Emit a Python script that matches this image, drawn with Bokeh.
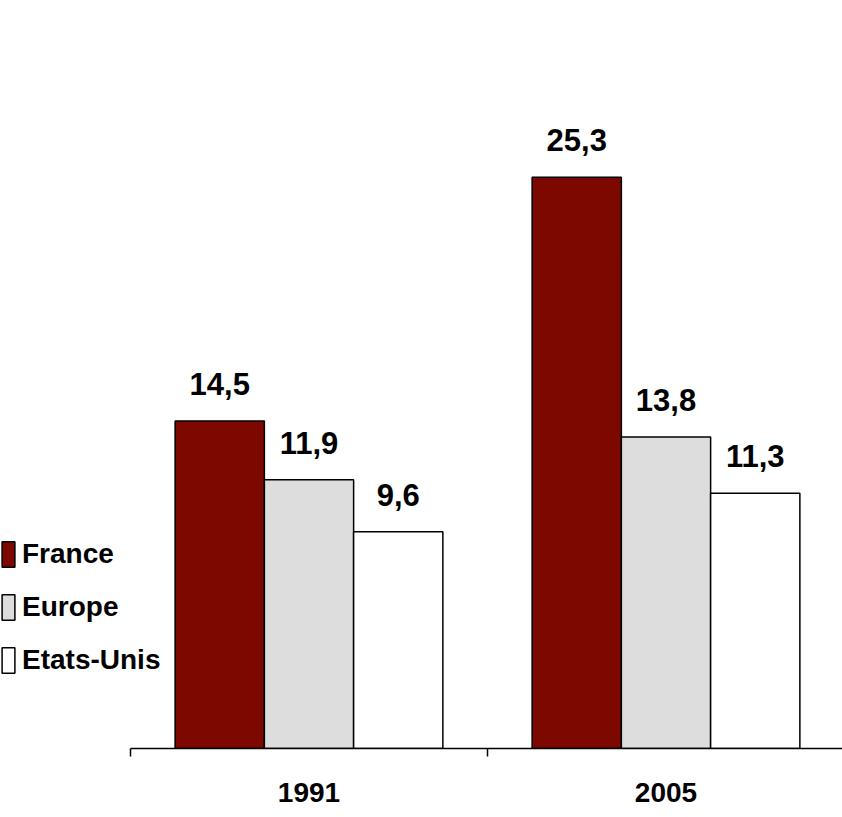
from bokeh.plotting import figure
from bokeh.models import ColumnDataSource, Range1d, LinearAxis, FixedTicker, Legend, LegendItem
from bokeh.core.properties import value
from bokeh.embed import file_html
from bokeh.resources import INLINE

years = ["1991", "2005"]
series_names = ["France", "Europe", "Etats-Unis"]
france = [14.5, 25.3]
europe = [11.9, 13.8]
etats_unis = [9.6, 11.3]
colors = ["#7D0800", "#DDDDDD", "#FFFFFF"]

FONT = "Liberation Sans"

p = figure(width=842, height=817, output_backend="svg", toolbar_location=None,
           x_range=Range1d(-0.3641, 1.9944), y_range=Range1d(0, 33.13),
           x_axis_location=None, y_axis_location=None,
           min_border_left=0, min_border_right=0, min_border_top=0, min_border_bottom=69)
p.outline_line_color = None
p.grid.visible = False
p.background_fill_color = "white"
p.border_fill_color = "white"

offsets = [-0.25, 0.0, 0.25]
width = 0.25
legend_items = []
for name, vals, col, off in zip(series_names, [france, europe, etats_unis], colors, offsets):
    xs = [i + 0.5 + off for i in range(len(years))]
    src = ColumnDataSource(dict(x=xs, top=vals,
                                label=[f"{v:.1f}".replace(".", ",") for v in vals]))
    r = p.vbar(x="x", top="top", bottom=0, width=width, source=src,
               fill_color=col, line_color="black", line_width=1.5)
    p.text(x="x", y="top", text="label", source=src, text_align="center",
           text_baseline="alphabetic", y_offset=-37,
           text_font=value(FONT), text_font_style="bold", text_font_size="31px",
           text_color="black")
    legend_items.append(LegendItem(label=name, renderers=[r]))

axis = LinearAxis(bounds=(0, 2),
                  ticker=FixedTicker(ticks=[0.5, 1.5], minor_ticks=[0, 1, 2]))
axis.major_label_overrides = {0.5: years[0], 1.5: years[1]}
axis.axis_line_color = "black"
axis.axis_line_width = 1.5
axis.major_tick_out = 0
axis.major_tick_in = 0
axis.minor_tick_out = 8
axis.minor_tick_in = 0
axis.minor_tick_line_color = "black"
axis.minor_tick_line_width = 1.5
axis.major_label_standoff = 26
axis.major_label_text_font = FONT
axis.major_label_text_font_style = "bold"
axis.major_label_text_font_size = "28px"
axis.major_label_text_color = "black"
p.add_layout(axis, "below")

legend = Legend(items=legend_items, location=(0, 72), orientation="vertical",
                glyph_width=16, glyph_height=32, label_height=32, spacing=21,
                padding=0, margin=0, label_standoff=6,
                label_text_font=FONT, label_text_font_style="bold",
                label_text_font_size="28px", label_text_color="black",
                border_line_color=None, background_fill_alpha=0)
p.add_layout(legend, "center")

open("out.html", "w").write(file_html(p, INLINE))
